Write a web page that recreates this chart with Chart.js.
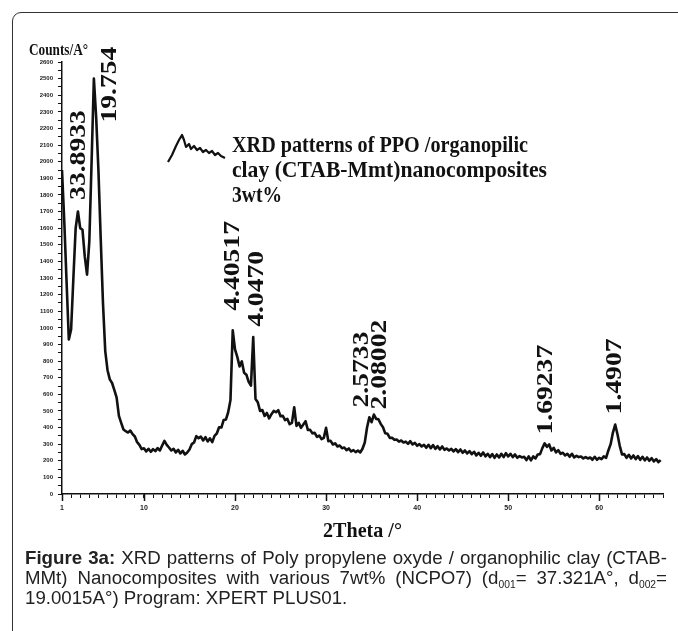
<!DOCTYPE html>
<html>
<head>
<meta charset="utf-8">
<script src="https://cdn.jsdelivr.net/npm/chart.js@4.4.0/dist/chart.umd.min.js"></script>
<style>
html, body { margin: 0; padding: 0; background: #fff; }
#wrap { position: relative; width: 678px; height: 631px; overflow: hidden; font-family: 'Liberation Serif', serif; }
#frame { position: absolute; left: 12px; top: 12px; width: 720px; height: 700px; border: 1px solid #333; border-radius: 9px; }
#chartBox { position: absolute; left: 0; top: 0; width: 678px; height: 631px; }
.fit { position: absolute; white-space: nowrap; transform-origin: 0 0; font-weight: bold; color: #111; }
#squiggle { position: absolute; left: 0; top: 0; }
#caption { position: absolute; left: 25px; top: 548px; width: 642px; font-family: 'Liberation Sans', Arial, sans-serif; font-size: 16px; line-height: 20px; color: #222; }
#caption .jl { text-align: justify; text-align-last: justify; }
#caption sub { font-size: 0.55em; vertical-align: -4px; line-height: 0; }
#measure { position: absolute; left: 0; top: 0; visibility: hidden; white-space: nowrap; font-family: 'Liberation Sans', Arial, sans-serif; font-size: 16px; }
</style>
</head>
<body>
<div id="wrap">
  <div id="frame"></div>
  <div id="chartBox"><canvas id="xrd"></canvas></div>
  <svg id="squiggle" width="678" height="631">
    <polyline fill="none" stroke="#111" stroke-width="2.2" stroke-linejoin="round" points="168,162 172,155 176,146 179,140 182,135 184,140 186,147 189,144 191,149 194,146 197,150 200,148 203,152 206,150 209,153 212,151 215,155 218,153 221,156 225,158"/>
  </svg>
  <div class="fit" data-w="59" style="left:29px; top:41px; font-size:16px;">Counts/A°</div>
  <div class="fit" data-w="296" style="left:232px; top:131px; font-size:24px;">XRD patterns of PPO /organopilic</div>
  <div class="fit" data-w="315" style="left:232px; top:156px; font-size:24px;">clay (CTAB-Mmt)nanocomposites</div>
  <div class="fit" data-w="50" style="left:232px; top:181px; font-size:24px;">3wt%</div>
  <div class="fit" data-w="79" style="left:323px; top:518px; font-size:21px;">2Theta /°</div>
  <div id="caption">
    <div class="jl"><b>Figure 3a:</b> XRD patterns of Poly propylene oxyde / organophilic clay (CTAB-</div>
    <div class="jl">MMt) Nanocomposites with various 7wt% (NCPO7) (d<sub>001</sub>= 37.321A°, d<sub>002</sub>=</div>
    <div>19.0015A°) Program: XPERT PLUS01.</div>
  </div>
  <span id="measure"><b>Figure 3a:</b> XRD patterns of Poly propylene oxyde / organophilic clay (CTAB-</span>
</div>
<script>
// 2Theta (deg) and intensity
const twoTheta = [
  1, 1.25, 1.5, 1.75, 2, 2.25, 2.5, 2.75, 3, 3.25,
  3.5, 3.75, 4, 4.25, 4.5, 4.75, 5, 5.25, 5.5, 5.75,
  6, 6.25, 6.5, 6.75, 7, 7.25, 7.5, 7.75, 8, 8.25,
  8.5, 8.75, 9, 9.25, 9.5, 9.75, 10, 10.25, 10.5, 10.75,
  11, 11.25, 11.5, 11.75, 12, 12.25, 12.5, 12.75, 13, 13.25,
  13.5, 13.75, 14, 14.25, 14.5, 14.75, 15, 15.25, 15.5, 15.75,
  16, 16.25, 16.5, 16.75, 17, 17.25, 17.5, 17.75, 18, 18.25,
  18.5, 18.75, 19, 19.25, 19.5, 19.75, 20, 20.25, 20.5, 20.75,
  21, 21.25, 21.5, 21.75, 22, 22.25, 22.5, 22.75, 23, 23.25,
  23.5, 23.75, 24, 24.25, 24.5, 24.75, 25, 25.25, 25.5, 25.75,
  26, 26.25, 26.5, 26.75, 27, 27.25, 27.5, 27.75, 28, 28.25,
  28.5, 28.75, 29, 29.25, 29.5, 29.75, 30, 30.25, 30.5, 30.75,
  31, 31.25, 31.5, 31.75, 32, 32.25, 32.5, 32.75, 33, 33.25,
  33.5, 33.75, 34, 34.25, 34.5, 34.75, 35, 35.25, 35.5, 35.75,
  36, 36.25, 36.5, 36.75, 37, 37.25, 37.5, 37.75, 38, 38.25,
  38.5, 38.75, 39, 39.25, 39.5, 39.75, 40, 40.25, 40.5, 40.75,
  41, 41.25, 41.5, 41.75, 42, 42.25, 42.5, 42.75, 43, 43.25,
  43.5, 43.75, 44, 44.25, 44.5, 44.75, 45, 45.25, 45.5, 45.75,
  46, 46.25, 46.5, 46.75, 47, 47.25, 47.5, 47.75, 48, 48.25,
  48.5, 48.75, 49, 49.25, 49.5, 49.75, 50, 50.25, 50.5, 50.75,
  51, 51.25, 51.5, 51.75, 52, 52.25, 52.5, 52.75, 53, 53.25,
  53.5, 53.75, 54, 54.25, 54.5, 54.75, 55, 55.25, 55.5, 55.75,
  56, 56.25, 56.5, 56.75, 57, 57.25, 57.5, 57.75, 58, 58.25,
  58.5, 58.75, 59, 59.25, 59.5, 59.75, 60, 60.25, 60.5, 60.75,
  61, 61.25, 61.5, 61.75, 62, 62.25, 62.5, 62.75, 63, 63.25,
  63.5, 63.75, 64, 64.25, 64.5, 64.75, 65, 65.25, 65.5, 65.75,
  66, 66.25, 66.5, 66.75
];
const counts = [
  1950, 1640, 1280, 930, 990, 1300, 1600, 1700, 1600, 1590,
  1430, 1320, 1520, 2000, 2500, 2270, 1950, 1540, 1150, 860,
  745, 690, 668, 625, 580, 470, 428, 388, 378, 370,
  382, 360, 346, 312, 296, 270, 275, 256, 272, 254,
  270, 258, 276, 262, 292, 320, 296, 280, 262, 272,
  250, 266, 244, 260, 238, 250, 268, 300, 310, 348,
  336, 345, 322, 342, 316, 335, 312, 350, 364, 402,
  400, 445, 448, 492, 565, 985, 870, 825, 768, 798,
  730, 718, 675, 652, 945, 572, 552, 500, 505, 470,
  488, 455, 480, 500, 492, 505, 468, 470, 445, 452,
  420, 428, 522, 410, 428, 398, 418, 438, 385, 386,
  365, 368, 344, 352, 330, 338, 398, 318, 320, 298,
  305, 286, 292, 276, 280, 264, 274, 256, 264, 252,
  262, 250, 272, 310, 400, 462, 432, 478, 452, 450,
  422, 402, 365, 362, 338, 338, 326, 328, 315, 322,
  310, 315, 302, 318, 298, 308, 290, 300, 286, 296,
  278, 296, 276, 294, 272, 288, 268, 286, 266, 274,
  262, 272, 256, 270, 252, 268, 248, 262, 244, 258,
  240, 254, 232, 248, 230, 250, 226, 242, 222, 240,
  218, 238, 220, 242, 222, 246, 226, 242, 222, 238,
  218, 228, 220, 224, 204, 226, 202, 226, 214, 238,
  240, 276, 305, 284, 298, 262, 278, 250, 264, 242,
  248, 232, 242, 224, 242, 220, 230, 222, 226, 214,
  222, 214, 220, 206, 224, 206, 218, 210, 226, 218,
  262, 300, 370, 418, 360, 290, 238, 240, 218, 236,
  214, 232, 210, 228, 206, 224, 202, 220, 200, 216,
  196, 210, 192, 204
];

// labelled x ticks
const xLabelAt = [1, 10, 20, 30, 40, 50, 60];

// d-spacing labels over the peaks
const peakText = ['33.8933', '19.754', '4.40517', '4.0470', '2.5733', '2.08002', '1.69237', '1.4907'];
const peakAt = [2.81, 6.27, 19.74, 22.43, 33.97, 35.89, 54.13, 61.74];

// where each rotated label starts (counts, bottom end of the text)
const labelBase = [1770, 2236, 1103, 1006, 521, 509, 358, 479];

const peakLabels = {
    id: 'peakLabels',
    afterDatasetsDraw(chart) {
        const { ctx, scales: { x, y } } = chart;
        ctx.save();
        ctx.font = 'bold 24px "Liberation Serif"';
        ctx.fillStyle = '#111';
        ctx.textBaseline = 'middle';
        ctx.textAlign = 'left';
        peakText.forEach((t, i) => {
            ctx.save();
            ctx.translate(x.getPixelForValue(peakAt[i]), y.getPixelForValue(labelBase[i]));
            ctx.rotate(-Math.PI / 2);
            ctx.scale(1.15, 1);
            ctx.fillText(t, 0, 0);
            ctx.restore();
        });
        ctx.restore();
    }
};

// longer marks at the labelled x ticks
const majorTicks = {
    id: 'majorTicks',
    afterDraw(chart) {
        const { ctx, scales: { x } } = chart;
        ctx.save();
        ctx.strokeStyle = '#111';
        ctx.lineWidth = 1.5;
        xLabelAt.forEach(v => {
            const px = Math.round(x.getPixelForValue(v)) + 0.5;
            ctx.beginPath();
            ctx.moveTo(px, x.top);
            ctx.lineTo(px, x.top + 7);
            ctx.stroke();
        });
        ctx.restore();
    }
};

new Chart(document.getElementById('xrd'), {
    type: 'line',
    data: {
        datasets: [{
            data: twoTheta.map((t, i) => ({ x: t, y: counts[i] })),
            borderColor: '#111',
            borderWidth: 2.6,
            borderJoinStyle: 'round',
            pointRadius: 0,
            tension: 0
        }]
    },
    options: {
        responsive: true,
        maintainAspectRatio: false,
        animation: false,
        layout: { padding: { left: 0, right: 15, top: 62, bottom: 112 } },
        plugins: { legend: { display: false }, tooltip: { enabled: false } },
        scales: {
            x: {
                type: 'linear',
                min: 1,
                max: 67,
                afterFit: s => { s.height = 25; },
                border: { display: true, color: '#111', width: 1.5 },
                grid: { drawOnChartArea: false, drawTicks: true, tickLength: 4, color: '#111' },
                ticks: {
                    stepSize: 1,
                    autoSkip: false,
                    maxRotation: 0,
                    padding: 6,
                    color: '#222',
                    font: { family: 'Liberation Sans', size: 7, weight: 'bold' },
                    callback: v => xLabelAt.includes(v) ? String(v) : ''
                }
            },
            y: {
                min: 0,
                max: 2600,
                afterFit: s => { s.width = 62; },
                border: { display: true, color: '#111', width: 1.5 },
                grid: { drawOnChartArea: false, drawTicks: true, tickLength: 4, color: '#111' },
                ticks: {
                    stepSize: 50,
                    autoSkip: false,
                    padding: 5,
                    color: '#222',
                    font: { family: 'Liberation Sans', size: 6, weight: 'bold' },
                    callback: v => v % 100 === 0 ? String(v) : ''
                }
            }
        }
    },
    plugins: [peakLabels, majorTicks]
});

// squeeze the bold serif texts to the widths seen in the figure
document.querySelectorAll('.fit').forEach(el => {
    const w = el.getBoundingClientRect().width;
    el.style.transform = 'scaleX(' + (+el.dataset.w / w) + ')';
});

// caption: pick the size at which the first line just fills the column
const natural = document.getElementById('measure').getBoundingClientRect().width;
const capSize = Math.min(19, 16 * 632 / natural);
document.getElementById('caption').style.fontSize = capSize.toFixed(2) + 'px';
</script>
</body>
</html>
